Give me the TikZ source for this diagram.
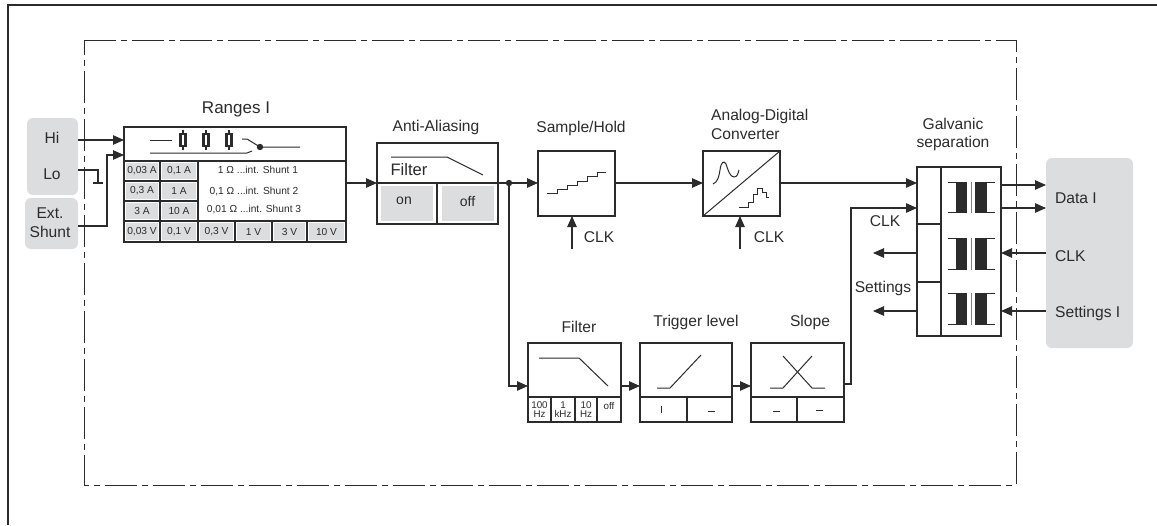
\documentclass[tikz,border=0pt]{standalone}
\usepackage{fontspec}
\setmainfont{Liberation Sans}
\usetikzlibrary{arrows.meta}
\definecolor{ink}{HTML}{2B2B2B}
\definecolor{panel}{HTML}{DCDDDE}
\tikzset{
  box/.style={draw=ink,line width=1.1pt,fill=white,anchor=north west,inner sep=0pt,outer sep=0pt},
  panelbox/.style={fill=panel,rounded corners=6pt,anchor=north west,inner sep=0pt,outer sep=0pt},
  title/.style={font=\fontsize{15.6}{18.8}\selectfont,text=ink,inner sep=0pt},
  tiny/.style={font=\fontsize{10.2}{11}\selectfont,text=ink,inner sep=0pt},
  wee/.style={font=\fontsize{9.8}{8.5}\selectfont,text=ink,inner sep=0pt,align=center},
  wire/.style={draw=ink,line width=1.1pt},
  sym/.style={draw=ink,line width=1pt},
  arrow/.style={wire,-{Triangle[length=11pt,width=9.5pt]}},
  dashframe/.style={draw=ink,line width=1.0pt},
}
\newcommand{\xformer}[2]{%
  \fill[ink] (956,#1) rectangle (967,#2);
  \fill[ink] (975,#1) rectangle (987,#2);
  \draw[sym,line width=.7pt] (948,#1) -- (967,#1) (975,#1) -- (995,#1) (948,#2) -- (967,#2) (975,#2) -- (995,#2);
  \draw[draw=gray,line width=.9pt] (971.5,#1) -- (971.5,#2+1);
}
\newcommand{\fuse}[1]{%
  \draw[ink,line width=1.3pt] (#1,130) -- (#1,150);
  \draw[ink,line width=2.4pt,fill=white] (#1-2.4,134) rectangle (#1+2.4,146);
}
\begin{document}
\begin{tikzpicture}[x=1pt,y=-1pt]
\useasboundingbox (0,0) rectangle (1157,525);
% frames
\draw[draw=ink,line width=1.3pt] (8,525) -- (8,5) -- (1157,5);
\draw[dashframe,dash pattern=on 32pt off 5pt on 6pt off 5pt] (84,40) -- (1016,40);
\draw[dashframe,dash pattern=on 32pt off 5pt on 6pt off 5pt,dash phase=20pt] (1016,40) -- (1016,485);
\draw[dashframe,dash pattern=on 32pt off 5pt on 6pt off 5pt,dash phase=17pt] (84,40) -- (84,485);
\draw[dashframe,dash pattern=on 32pt off 5pt on 6pt off 5pt,dash phase=27pt] (84,485) -- (1016,485);
% panels
\node[panelbox,minimum width=51pt,minimum height=77pt] (hilo) at (27,118) {};
\node[panelbox,minimum width=53pt,minimum height=51pt] (ext) at (25,198) {};
\node[panelbox,minimum width=87pt,minimum height=190pt] (right) at (1046,158) {};
\node[title] (thi) at (52,138) {Hi};
\node[title] (tlo) at (52,174) {Lo};
\node[title,align=center] (text) at (50,223) {Ext.\\Shunt};
\node[title,anchor=west] (tdata) at (1055,198) {Data I};
\node[title,anchor=west] (tclk) at (1055,256) {CLK};
\node[title,anchor=west] (tset) at (1055,313) {Settings I};

% Ranges
\node[box,minimum width=222pt,minimum height=115pt] (ranges) at (124,127) {};
\node[title,font=\fontsize{17}{19}\selectfont] (tranges) at (236,109) {Ranges I};
\draw[wire] (124,161) -- (346,161);
\draw[wire] (124,221) -- (346,221);
\draw[wire] (160,161) -- (160,242) (198,161) -- (198,242);
\draw[wire] (235,221) -- (235,242) (272,221) -- (272,242) (307,221) -- (307,242);
\draw[wire] (124,181) -- (198,181) (124,201) -- (198,201);
\foreach \nm/\xa/\xb/\ya/\yb/\lab in {
  a/126/158/163/179/{0,03 A}, b/162/196/163/179/{0,1 A},
  c/126/158/183/199/{0,3 A}, d/162/196/183/199/{1 A},
  e/126/158/203/219/{3 A}, f/162/196/203/219/{10 A},
  g/126/158/223/240/{0,03 V}, h/162/196/223/240/{0,1 V}, i/200/233/223/240/{0,3 V},
  j/237/270/223/240/{1 V}, k/274/305/223/240/{3 V}, l/309/344/223/240/{10 V}}{
  \fill[panel] (\xa,\ya) rectangle (\xb,\yb);
  \node[tiny] (r\nm) at ({(\xa+\xb)/2},{(\ya+\yb)/2}) {\lab};
}
\node[tiny] (s1) at (258,170) {1 Ω ...int. Shunt 1};
\node[tiny] (s2) at (254,191) {0,1 Ω ...int. Shunt 2};
\node[tiny] (s3) at (254,209) {0,01 Ω ...int. Shunt 3};
% switch symbol
\draw[sym] (150,140) -- (172,140);
\fuse{183}\fuse{206}\fuse{229}
\draw[sym] (242,139) -- (247,139) -- (260,147) -- (300,147);
\fill[ink] (260,147) circle (3.2pt);
\draw[sym] (150,153) -- (247,153) -- (252,151);

% Anti-aliasing
\node[box,minimum width=121pt,minimum height=81pt] (aa) at (377,143) {};
\node[title] (taa) at (436,127) {Anti-Aliasing};
\draw[wire] (377,183) -- (498,183);
\draw[wire] (437,183) -- (437,224);
\fill[panel] (381,186) rectangle (433,221);
\fill[panel] (442,186) rectangle (494,221);
\node[title,font=\fontsize{14}{16}\selectfont] (ton) at (404,201) {on};
\node[title,font=\fontsize{14}{16}\selectfont] (toff) at (467.5,201) {off};
\node[title,font=\fontsize{16.6}{18}\selectfont] (tf) at (409,170) {Filter};
\draw[sym] (391,157) -- (447,157) -- (483,175);

% Sample/hold
\node[box,minimum width=77pt,minimum height=65pt] (sh) at (538,151) {};
\node[title] (tsh) at (581,128) {Sample/Hold};
\draw[sym] (547,193) -- (557,193) -- (557,189) -- (567,189) -- (567,185) -- (577,185) -- (577,181) -- (587,181) -- (587,176) -- (597,176) -- (597,172) -- (606,172);
\coordinate (shclk) at (572,249);
\draw[arrow] (shclk) -- (shclk |- sh.south);
\node[title] (tshclk) at (599,237) {CLK};

% ADC
\node[box,minimum width=77pt,minimum height=65pt] (adc) at (703,151) {};
\node[title,align=left,anchor=west] (tadc) at (711,124.5) {Analog-Digital\\Converter};
\draw[sym] (adc.south west) -- (adc.north east);
\draw[sym] (713,184) .. controls (718,182) and (719,176) .. (720,170) .. controls (721,162) and (724,160) .. (726,164) .. controls (728,170) and (730,177) .. (734,177) .. controls (737,177) and (738,174) .. (739,170);
\draw[sym] (739,207) -- (748,207) -- (748,202) -- (753,202) -- (753,194) -- (757,194) -- (757,188) -- (762,188) -- (762,192) -- (766,192) -- (766,197) -- (769,197);
\coordinate (adcclk) at (740,249);
\draw[arrow] (adcclk) -- (adcclk |- adc.south);
\node[title] (tadcclk) at (769,237) {CLK};

% Galvanic
\node[box,minimum width=84pt,minimum height=169pt] (gal) at (917,167) {};
\node[title,align=center] (tgal) at (953,134.5) {Galvanic\\separation};
\draw[wire] (941,167) -- (941,336);
\draw[wire] (917,224) -- (941,224) (917,282) -- (941,282);
\xformer{182}{212}
\xformer{238}{269}
\xformer{293}{324}
\node[title] (tgclk) at (885,221) {CLK};
\node[title] (tgset) at (883,288) {Settings};

% lower chain
\node[box,minimum width=93pt,minimum height=79pt] (flt) at (528,343) {};
\node[title] (tflt) at (579,327) {Filter};
\draw[wire] (528,397) -- (621,397) (551,397) -- (551,422) (575,397) -- (575,422) (597,397) -- (597,422);
\draw[sym] (539,358) -- (579,358) -- (608,386);
\node[wee] (f1) at (539.5,409.5) {100\\Hz};
\node[wee] (f2) at (563,409.5) {1\\kHz};
\node[wee] (f3) at (586,409.5) {10\\Hz};
\node[wee] (f4) at (609,405.5) {off};

\node[box,minimum width=92pt,minimum height=79pt] (trg) at (640,343) {};
\node[title] (ttrg) at (696,322) {Trigger level};
\draw[wire] (640,397) -- (732,397) (687,397) -- (687,422);
\draw[sym] (657,388) -- (670,388) -- (701,355);
\draw[sym] (661,406) -- (661,413);
\draw[sym] (708,411) -- (715,411);

\node[box,minimum width=93pt,minimum height=79pt] (slp) at (751,343) {};
\node[title] (tslp) at (810,322) {Slope};
\draw[wire] (751,397) -- (844,397) (797,397) -- (797,422);
\draw[sym] (770,388) -- (783,388) -- (812,356);
\draw[sym] (783,356) -- (812,388) -- (825,388);
\draw[sym] (773,411) -- (780,411);
\draw[sym] (816,410) -- (823,410);

% connectors
\coordinate (hiin) at (124,140);
\coordinate (extin) at (124,155);
\coordinate (loend) at (98,170);
\coordinate (gnd) at (98,183);
\draw[arrow] (hilo.east |- hiin) -- (hiin);
\draw[arrow] (ext.east |- 0,226) -| (107,155) -- (extin);
\draw[wire] (hilo.east |- loend) -- (loend) -- (gnd);
\draw[wire] (93,183) -- (103,183);
\coordinate (rout) at (346,183);
\draw[arrow] (rout) -- (377,183);
\coordinate (jn) at (509,183);
\draw[wire] (498,183) -- (jn);
\fill[ink] (jn) circle (3.2pt);
\draw[arrow] (jn) -- (sh.west |- jn);
\draw[arrow] (sh.east |- jn) -- (adc.west |- jn);
\draw[arrow] (adc.east |- jn) -- (gal.west |- jn);
\coordinate (fltin) at (528,386);
\draw[arrow] (jn) -- (jn |- fltin) -- (fltin);
\coordinate (f2t) at (640,386);
\draw[arrow] (flt.east |- f2t) -- (f2t);
\coordinate (t2s) at (751,386);
\draw[arrow] (trg.east |- t2s) -- (t2s);
\coordinate (slout) at (844,384);
\coordinate (galclk) at (917,208);
\draw[arrow] (slout) -- (851,384) -- (851,208) -- (galclk);
\coordinate (o1) at (1046,185);
\coordinate (o2) at (1046,208);
\draw[arrow] (gal.east |- o1) -- (o1);
\draw[arrow] (gal.east |- o2) -- (o2);
\coordinate (i1) at (1046,253);
\coordinate (i2) at (1046,311);
\draw[arrow] (i1) -- (gal.east |- i1);
\draw[arrow] (i2) -- (gal.east |- i2);
\coordinate (l1) at (873,253);
\coordinate (l2) at (873,311);
\draw[arrow] (gal.west |- l1) -- (l1);
\draw[arrow] (gal.west |- l2) -- (l2);
\end{tikzpicture}
\end{document}
